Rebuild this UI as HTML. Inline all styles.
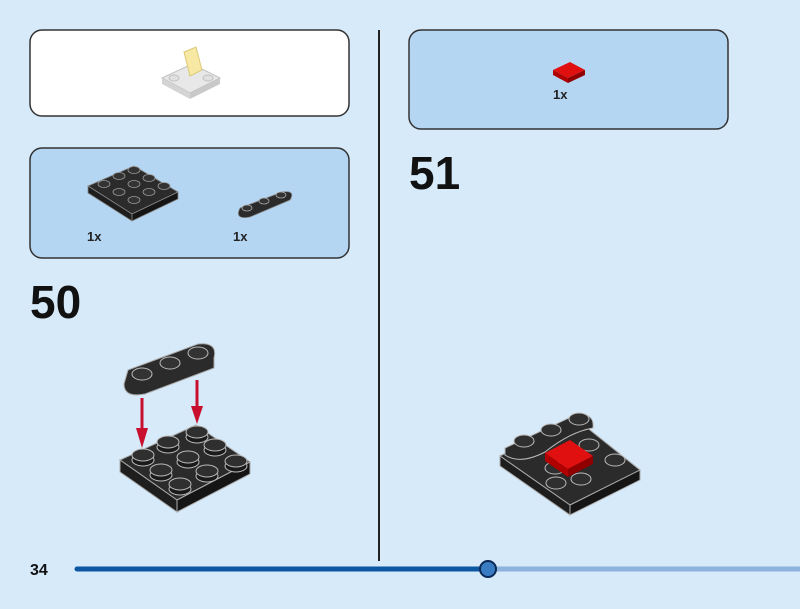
<!DOCTYPE html>
<html><head><style>
body{margin:0;width:800px;height:604px;background:#d6eaf9;overflow:hidden;font-family:"Liberation Sans",sans-serif}
</style></head><body>
<svg width="800" height="604" viewBox="0 0 800 604" xmlns="http://www.w3.org/2000/svg" font-family="Liberation Sans, sans-serif">
<rect width="800" height="604" fill="#d6eaf9"/>
<rect x="30" y="30" width="319" height="86" rx="12" fill="#fff" stroke="#333" stroke-width="1.5"/>
<rect x="30" y="148" width="319" height="110" rx="12" fill="#b4d6f2" stroke="#333" stroke-width="1.5"/>
<rect x="409" y="30" width="319" height="99" rx="12" fill="#b4d6f2" stroke="#333" stroke-width="1.5"/>
<line x1="379" y1="30" x2="379" y2="561" stroke="#222" stroke-width="2"/>
<g opacity="0.9">
<polygon points="162,78 192,64 220,78 190,93" fill="#e6e6e6" stroke="#bbb"/>
<polygon points="162,78 190,93 190,99 162,84" fill="#d0d0d0"/>
<polygon points="190,93 220,78 220,84 190,99" fill="#c4c4c4"/>
<polygon points="184,52 196,47 202,70 190,76" fill="#f7e79a" stroke="#d8c46a"/>
<ellipse cx="174" cy="78" rx="5" ry="3" fill="#ddd" stroke="#bbb"/>
<ellipse cx="208" cy="78" rx="5" ry="3" fill="#ddd" stroke="#bbb"/>
</g>
<polygon points="88,186 134,166 178,192 132,214" fill="#2b2b2b" stroke="#888" stroke-width="0.8"/>
<polygon points="88,186 132,214 132,221 88,193" fill="#1e1e1e" stroke="#888" stroke-width="0.8"/>
<polygon points="132,214 178,192 178,199 132,221" fill="#151515" stroke="#888" stroke-width="0.8"/>
<g fill="#333" stroke="#999" stroke-width="0.8">
<ellipse cx="119" cy="176" rx="6" ry="3.5"/><ellipse cx="134" cy="184" rx="6" ry="3.5"/><ellipse cx="149" cy="192" rx="6" ry="3.5"/>
<ellipse cx="104" cy="184" rx="6" ry="3.5"/><ellipse cx="119" cy="192" rx="6" ry="3.5"/><ellipse cx="134" cy="200" rx="6" ry="3.5"/>
<ellipse cx="134" cy="170" rx="6" ry="3.5"/><ellipse cx="149" cy="178" rx="6" ry="3.5"/><ellipse cx="164" cy="186" rx="6" ry="3.5"/>
</g>
<path d="M240,208 L282,192 Q296,190 290,200 L250,217 Q234,220 240,208Z" fill="#2b2b2b" stroke="#888" stroke-width="0.8"/>
<g fill="#333" stroke="#aaa" stroke-width="0.8"><ellipse cx="247" cy="208" rx="5" ry="3"/><ellipse cx="264" cy="201" rx="5" ry="3"/><ellipse cx="281" cy="195" rx="5" ry="3"/></g>
<text x="87" y="241" font-size="13" font-weight="bold" fill="#222">1x</text>
<text x="233" y="241" font-size="13" font-weight="bold" fill="#222">1x</text>
<polygon points="553,70 570,62 585,70 568,78" fill="#e01010"/>
<polygon points="553,70 568,78 568,83 553,75" fill="#b00000"/>
<polygon points="568,78 585,70 585,75 568,83" fill="#900000"/>
<text x="553" y="99" font-size="13" font-weight="bold" fill="#222">1x</text>
<text x="30" y="318" font-size="46" font-weight="bold" fill="#111">50</text>
<text x="409" y="189" font-size="46" font-weight="bold" fill="#111">51</text>
<polygon points="120,460 196,425 250,462 177,500" fill="#2b2b2b" stroke="#aaa" stroke-width="1"/>
<polygon points="120,460 177,500 177,512 120,472" fill="#1e1e1e" stroke="#aaa" stroke-width="1"/>
<polygon points="177,500 250,462 250,474 177,512" fill="#151515" stroke="#aaa" stroke-width="1"/>
<g fill="#1a1a1a" stroke="#bbb" stroke-width="1">
<ellipse cx="143" cy="460" rx="11" ry="6"/><ellipse cx="168" cy="447" rx="11" ry="6"/><ellipse cx="197" cy="437" rx="11" ry="6"/>
<ellipse cx="161" cy="475" rx="11" ry="6"/><ellipse cx="188" cy="462" rx="11" ry="6"/><ellipse cx="215" cy="450" rx="11" ry="6"/>
<ellipse cx="180" cy="489" rx="11" ry="6"/><ellipse cx="207" cy="476" rx="11" ry="6"/><ellipse cx="236" cy="466" rx="11" ry="6"/>
</g>
<g fill="#2f2f2f" stroke="#bbb" stroke-width="1">
<ellipse cx="143" cy="455" rx="11" ry="6"/><ellipse cx="168" cy="442" rx="11" ry="6"/><ellipse cx="197" cy="432" rx="11" ry="6"/>
<ellipse cx="161" cy="470" rx="11" ry="6"/><ellipse cx="188" cy="457" rx="11" ry="6"/><ellipse cx="215" cy="445" rx="11" ry="6"/>
<ellipse cx="180" cy="484" rx="11" ry="6"/><ellipse cx="207" cy="471" rx="11" ry="6"/><ellipse cx="236" cy="461" rx="11" ry="6"/>
</g>
<path d="M128,370 L198,344 Q218,342 214,358 L214,368 L145,394 Q124,398 124,384 Z" fill="#2b2b2b" stroke="#aaa" stroke-width="1"/>
<g fill="#333" stroke="#bbb" stroke-width="1"><ellipse cx="142" cy="374" rx="10" ry="6"/><ellipse cx="170" cy="363" rx="10" ry="6"/><ellipse cx="198" cy="353" rx="10" ry="6"/></g>
<g stroke="#c8102e" stroke-width="3" fill="#c8102e">
<line x1="142" y1="398" x2="142" y2="432"/><polygon points="136,428 148,428 142,448" stroke="none"/>
<line x1="197" y1="380" x2="197" y2="410"/><polygon points="191,406 203,406 197,424" stroke="none"/>
</g>
<polygon points="500,456 575,418 640,470 570,505" fill="#2b2b2b" stroke="#aaa" stroke-width="1"/>
<polygon points="500,456 570,505 570,515 500,466" fill="#1e1e1e" stroke="#aaa" stroke-width="1"/>
<polygon points="570,505 640,470 640,480 570,515" fill="#151515" stroke="#aaa" stroke-width="1"/>
<path d="M505,448 L575,415 Q595,412 593,428 Q570,432 545,452 Q520,465 505,455Z" fill="#2a2a2a" stroke="#bbb" stroke-width="1"/>
<g fill="#2f2f2f" stroke="#bbb" stroke-width="1">
<ellipse cx="524" cy="441" rx="10" ry="6"/><ellipse cx="551" cy="430" rx="10" ry="6"/><ellipse cx="579" cy="419" rx="10" ry="6"/>
<ellipse cx="589" cy="445" rx="10" ry="6"/><ellipse cx="615" cy="460" rx="10" ry="6"/>
<ellipse cx="555" cy="468" rx="10" ry="6"/><ellipse cx="581" cy="479" rx="10" ry="6"/><ellipse cx="556" cy="483" rx="10" ry="6"/>
</g>
<polygon points="545,453 570,440 593,456 568,469" fill="#e01010"/>
<polygon points="545,453 568,469 568,477 545,461" fill="#b00000"/>
<polygon points="568,469 593,456 593,464 568,477" fill="#900000"/>
<text x="30" y="575" font-size="16" font-weight="bold" fill="#111">34</text>
<line x1="488" y1="569" x2="800" y2="569" stroke="#8fb3df" stroke-width="5"/>
<line x1="77" y1="569" x2="488" y2="569" stroke="#0b57a4" stroke-width="5" stroke-linecap="round"/>
<circle cx="488" cy="569" r="8" fill="#3a7cc4" stroke="#0a2a55" stroke-width="2"/>
</svg>
</body></html>
